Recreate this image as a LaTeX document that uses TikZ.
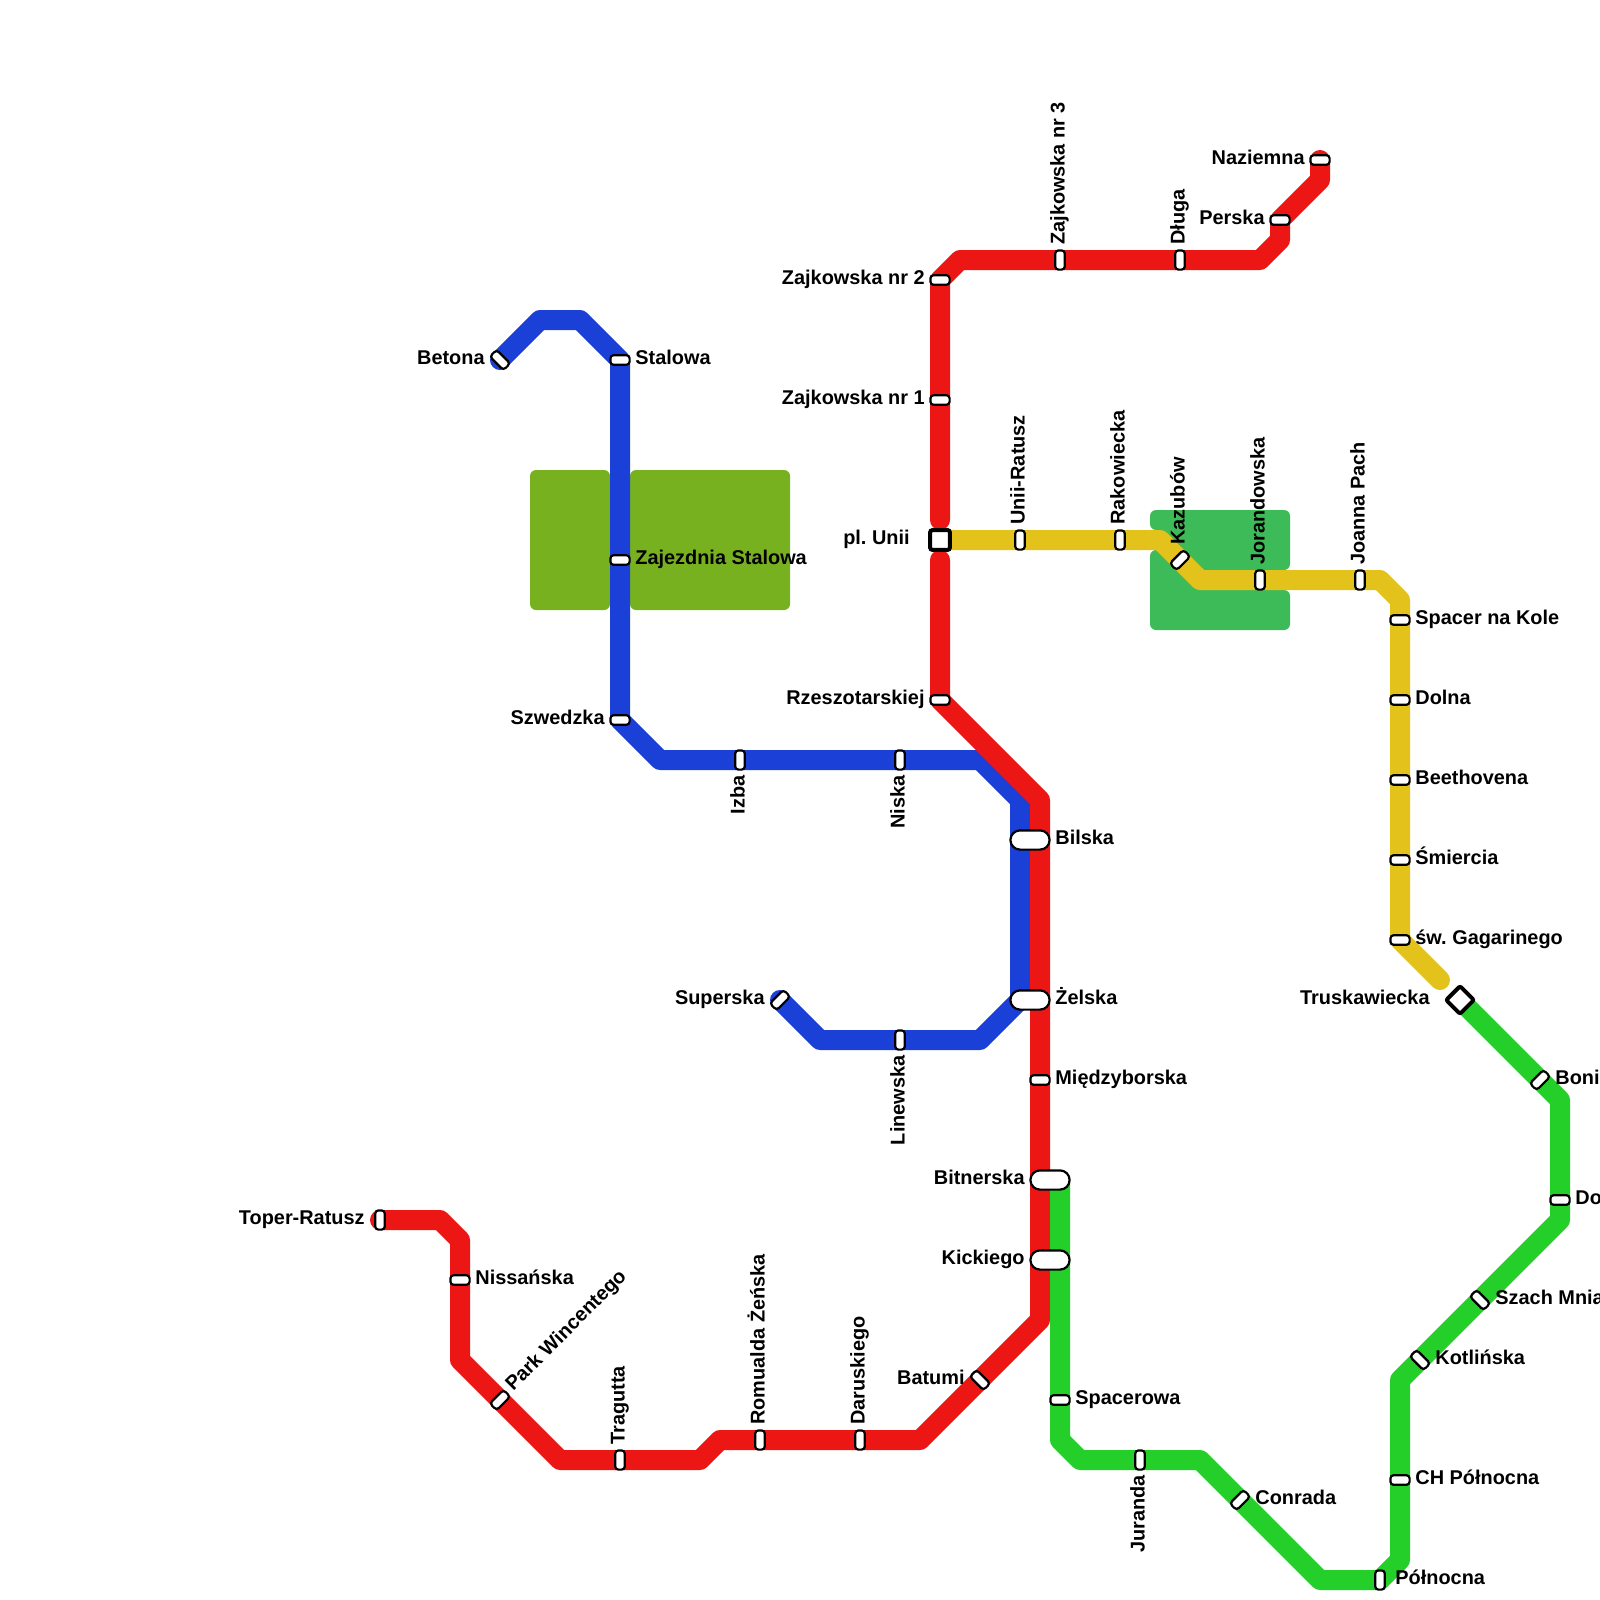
\documentclass[tikz,border=0pt]{standalone}
\usepackage{fontspec}
\setmainfont{Liberation Sans}
\usetikzlibrary{positioning}
\frenchspacing
\definecolor{mtred}{HTML}{EC1714}
\definecolor{mtblue}{HTML}{1B40D8}
\definecolor{mtyellow}{HTML}{E3C31B}
\definecolor{mtgreen}{HTML}{24CF29}
\definecolor{mtolive}{HTML}{78B120}
\definecolor{mtpark}{HTML}{3EBB59}
\pgfdeclarelayer{parks}
\pgfdeclarelayer{lines}
\pgfsetlayers{parks,lines,main}
\tikzset{
  mtline/.style={line width=10pt, line cap=round, line join=round},
  stnh/.style={draw=black, fill=white, line width=1.1pt, rectangle, inner sep=0pt,
               minimum width=9.6pt, minimum height=4.8pt, rounded corners=1.6pt},
  stnv/.style={stnh, rotate=90},
  stnd/.style={stnh, rotate=45},
  stnu/.style={stnh, rotate=-45},
  stnwide/.style={stnh, minimum width=19.6pt, minimum height=9.6pt, rounded corners=4.8pt},
  stnbig/.style={draw=black, fill=white, line width=2pt, rectangle, inner sep=0pt,
                 minimum size=9.8pt, rounded corners=1pt},
  txtbase/.style={font=\bfseries\fontsize{9.95}{12}\selectfont, inner sep=0pt, text=black},
  txtr/.style={txtbase, anchor=base west},
  txtl/.style={txtbase, anchor=base east},
  txtup/.style={txtbase, anchor=base west, rotate=90},
  txtdn/.style={txtbase, anchor=base east, rotate=90},
}
\begin{document}
\begin{tikzpicture}[x=0.5pt, y=-0.5pt]
  \useasboundingbox (0,0) rectangle (1600,1600);
  \foreach \nm/\x/\y/\txt in {stalowa/620/360/Stalowa, zajezdnia/620/560/Zajezdnia Stalowa,
      nissanska/460/1280/Nissańska, miedzyborska/1040/1080/Międzyborska,
      spacerowa/1060/1400/Spacerowa, spacerkole/1400/620/Spacer na Kole, dolna/1400/700/Dolna,
      beethovena/1400/780/Beethovena, smiercia/1400/860/Śmiercia,
      gagarinego/1400/940/św. Gagarinego, chpolnocna/1400/1480/CH Północna, dol/1560/1200/Do} {
    \node[stnh] (\nm) at (\x,\y) {};
    \node[txtr] (\nm-t) at (\x+15,\y+4.5) {\txt};
  }
  \foreach \nm/\x/\y/\txt in {naziemna/1320/160/Naziemna, perska/1280/220/Perska,
      zajkdwa/940/280/Zajkowska nr 2, zajkjeden/940/400/Zajkowska nr 1,
      rzeszot/940/700/Rzeszotarskiej, szwedzka/620/720/Szwedzka} {
    \node[stnh] (\nm) at (\x,\y) {};
    \node[txtl] (\nm-t) at (\x-15,\y+4.5) {\txt};
  }
  \foreach \nm/\x/\y/\txt in {zajktrzy/1060/260/Zajkowska nr 3, dluga/1180/260/Długa,
      uniiratusz/1020/540/Unii-Ratusz, rakowiecka/1120/540/Rakowiecka,
      jorandowska/1260/580/Jorandowska, joanna/1360/580/Joanna Pach,
      tragutta/620/1460/Tragutta, romualda/760/1440/Romualda Żeńska,
      daruskiego/860/1440/Daruskiego} {
    \node[stnv] (\nm) at (\x,\y) {};
    \node[txtup] (\nm-t) at (\x+4.5,\y-15) {\txt};
  }
  \foreach \nm/\x/\y/\txt in {izba/740/760/Izba, niska/900/760/Niska,
      linewska/900/1040/Linewska, juranda/1140/1460/Juranda} {
    \node[stnv] (\nm) at (\x,\y) {};
    \node[txtdn] (\nm-t) at (\x+4.5,\y+15) {\txt};
  }
  \foreach \nm/\x/\y/\txt in {bilska/1030/840/Bilska, zelska/1030/1000/Żelska} {
    \node[stnwide] (\nm) at (\x,\y) {};
    \node[txtr] (\nm-t) at (\x+25,\y+4.5) {\txt};
  }
  \foreach \nm/\x/\y/\txt in {bitnerska/1050/1180/Bitnerska, kickiego/1050/1260/Kickiego} {
    \node[stnwide] (\nm) at (\x,\y) {};
    \node[txtl] (\nm-t) at (\x-25,\y+4.5) {\txt};
  }
  \node[stnv] (toper) at (380,1220) {};
  \node[txtl] (toper-t) at (365,1224.5) {Toper-Ratusz};
  \node[stnv] (polnocna) at (1380,1580) {};
  \node[txtr] (polnocna-t) at (1395,1584.5) {Północna};
  \node[stnu] (betona) at (500,360) {};
  \node[txtl] (betona-t) at (485,364.5) {Betona};
  \node[stnd] (superska) at (780,1000) {};
  \node[txtl] (superska-t) at (765,1004.5) {Superska};
  \node[stnu] (batumi) at (980,1380) {};
  \node[txtl] (batumi-t) at (965,1384.5) {Batumi};
  \node[stnd] (kazubow) at (1180,560) {};
  \node[txtup] (kazubow-t) at (1184.5,545) {Kazubów};
  \node[stnd] (parkwin) at (500,1400) {};
  \node[txtup, rotate=-45] (parkwin-t) at (513,1392) {Park Wincentego};
  \node[stnd] (boni) at (1540,1080) {};
  \node[txtr] (boni-t) at (1555,1084.5) {Boni};
  \node[stnu] (szach) at (1480,1300) {};
  \node[txtr] (szach-t) at (1495,1304.5) {Szach Mnia};
  \node[stnu] (kotlinska) at (1420,1360) {};
  \node[txtr] (kotlinska-t) at (1435,1364.5) {Kotlińska};
  \node[stnd] (conrada) at (1240,1500) {};
  \node[txtr] (conrada-t) at (1255,1504.5) {Conrada};
  \node[stnbig] (plunii) at (940,540) {};
  \node[txtl] (plunii-t) at (910,544.5) {pl. Unii};
  \node[stnbig, rotate=45] (truskaw) at (1460,1000) {};
  \node[txtl] (truskaw-t) at (1430,1004.5) {Truskawiecka};
  \coordinate (redN) at (940,520);
  \coordinate (redS) at (940,560);
  \coordinate (yelE) at (1440,980);
  \begin{pgfonlayer}{parks}
    \fill[mtolive, rounded corners=3pt] (530,470) rectangle (610,610);
    \fill[mtolive, rounded corners=3pt] (630,470) rectangle (790,610);
    \fill[mtpark, rounded corners=3pt] (1150,510) -- (1290,510) -- (1290,570) -- (1200,570) -- (1160,530) -- (1150,530) -- cycle;
    \fill[mtpark, rounded corners=3pt] (1150,550) -- (1170,550) -- (1210,590) -- (1290,590) -- (1290,630) -- (1150,630) -- cycle;
  \end{pgfonlayer}
  \begin{pgfonlayer}{lines}
    \draw[mtline, mtblue] (betona.center) -- (540,320) -- (580,320) -- (stalowa.center) -- (szwedzka.center)
      -- (660,760) -- (980,760) -- (1020,800) -- (1020,1000) -- (980,1040) -- (820,1040) -- (superska.center);
    \draw[mtline, mtred] (naziemna.center) -- (1320,180) -- (perska.center) -- (1280,240) -- (1260,260)
      -- (960,260) -- (zajkdwa.center) -- (redN);
    \draw[mtline, mtred] (redS) -- (rzeszot.center) -- (1040,800) -- (1040,1320) -- (batumi.center)
      -- (920,1440) -- (720,1440) -- (700,1460) -- (560,1460) -- (parkwin.center) -- (460,1360)
      -- (460,1240) -- (440,1220) -- (toper.center);
    \draw[mtline, mtyellow] (plunii.center) -- (1160,540) -- (1200,580) -- (1380,580) -- (1400,600)
      -- (gagarinego.center) -- (yelE);
    \draw[mtline, mtgreen] (truskaw.center) -- (1560,1100) -- (1560,1220) -- (1400,1380)
      -- (1400,1560) -- (polnocna.center) -- (1320,1580) -- (1200,1460) -- (1080,1460) -- (1060,1440)
      -- (1060,1180);
  \end{pgfonlayer}
\end{tikzpicture}
\end{document}
